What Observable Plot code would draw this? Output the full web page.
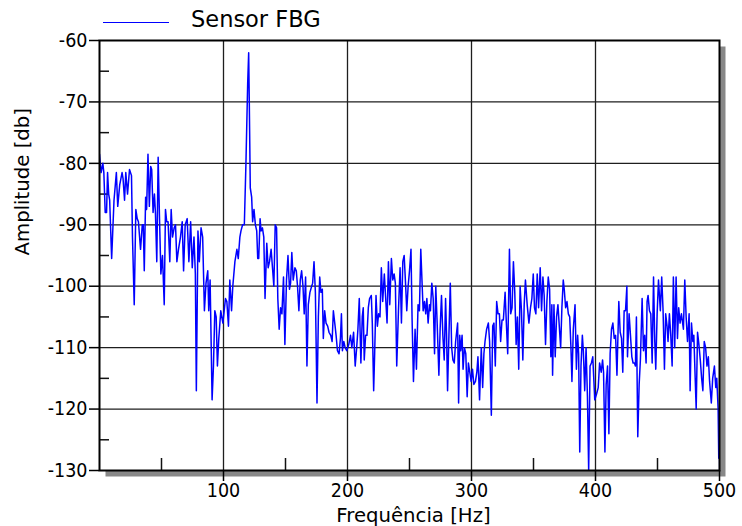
<!DOCTYPE html>
<html><head><meta charset="utf-8">
<script src="https://cdn.jsdelivr.net/npm/d3@7"></script>
<script src="https://cdn.jsdelivr.net/npm/@observablehq/plot@0.6"></script>
<style>
body{margin:0;background:#fff;}
#wrap{position:relative;width:742px;height:526px;font-family:"DejaVu Sans Condensed","DejaVu Sans",sans-serif;}
#legline{position:absolute;left:103px;top:22px;width:66px;height:0;border-top:1px solid #0000ff;}
#legtext{position:absolute;left:191px;top:8px;font-family:"DejaVu Sans",sans-serif;font-size:22.5px;line-height:1;color:#000;white-space:nowrap;}
</style></head><body>
<div id="wrap"><div id="legline"></div><div id="legtext"></div></div>
<script>
const seriesName = "Sensor FBG";
const xLabel = "Frequência [Hz]";
const yLabel = "Amplitude [db]";
const xTicks = [100, 200, 300, 400, 500];
const xGrid = [100, 200, 300, 400];
const xMinor = [50, 150, 250, 350, 450];
const yTicks = [-60, -70, -80, -90, -100, -110, -120, -130];
const yGrid = [-70, -80, -90, -100, -110, -120];
const yMinor = [-65, -75, -85, -95, -105, -115, -125];

const freq = [0,1.3,2.7,3.5,4.6,5.7,6.5,7.4,8.2,9.8,11.7,13.6,14.7,16.3,18.2,19,20.2,21.2,22.6,24.2,25.8,26.6,28,29.3,30.4,31.4,33.1,34.5,35.3,36.1,37.2,38,39.1,40.2,41.3,42.1,43.2,44.3,45.1,46.2,47.3,48.4,49.5,50.8,52.2,53.2,
54.2,55.3,56.7,57.8,58.9,60.2,61.3,62.4,63.7,65.3,66.7,67.8,69.1,70.7,72.1,73.5,74.8,76.2,77.3,78.1,79.4,80.5,81.9,83.2,84.6,85.9,87.3,88.1,89.2,90.8,91.9,93,94.1,95.1,96.2,97.8,99.5,
101.6,102.7,104,105.1,106.5,107.5,109.2,110.8,111.9,113.2,114.1,115.4,116.8,118.1,119.5,120.3,120.8,121.6,122.7,123.5,124.6,125.7,126.8,127.6,128.4,129.5,130.3,131.4,132.5,133.5,134.9,136,137.1,138.4,139.5,140.6,141.7,142.8,143.8,144.9,146,147.1,148.4,149.5,150.8,152,153.2,
154.1,155.1,156.2,157.6,158.7,159.7,160.8,161.9,163,164.1,165.1,166.2,167.3,168.4,169.7,171.1,171.9,173,174.1,175.4,176.5,177.6,178.6,179.7,180.5,181.6,182.7,184,185.1,186.5,187.6,188.6,190,190.8,191.9,193.2,194.3,195.1,195.9,197,198.1,199.4,
201,202.4,203.5,204.9,206.2,207.4,208.4,209.5,210.8,211.9,212.7,213.5,214.6,215.7,216.8,217.8,219.2,220,221.1,221.9,223,224.1,225.1,226.2,227.3,228.4,229.7,231.9,233,234.1,235.4,236.5,237.6,238.6,239.7,241.1,242.4,243.5,244.6,245.7,246.8,247.8,248.9,
250,251.2,252.1,253.2,254.5,255.6,256.9,258,259.1,261,262.1,263.1,264,265,266.1,266.9,268,269.1,270.2,271.2,272.3,273.7,274.7,275.8,276.9,278,279.1,279.9,280.7,281.8,282.9,284,285,286.1,287.2,288,288.8,289.6,290.5,291.3,292.4,293.2,294.3,295.4,296.5,297.5,298.6,
299.7,300.8,301.9,303.2,304.3,305.2,306.5,307.9,309,310,310.9,312.2,313.6,314.6,316,317.1,318.1,319.2,320.3,321.4,322.5,323.5,324.6,325.7,327.1,328.1,329.2,330.6,331.6,332.7,333.8,334.9,336,337,338.1,339.2,340.3,341.4,342.5,343.5,344.9,346.3,347.6,348.7,349.8,
350.8,351.9,353,354.1,355.4,356.5,357.6,358.6,359.7,360.8,361.9,363,364,364.8,365.4,366.5,367.5,368.6,369.7,371.9,372.9,374,374.8,375.9,377,378.1,379.2,380.2,381,382.1,383.5,384.6,385.6,386.4,387.3,388.3,389.4,390.2,391.3,392.4,393.5,394.5,395.6,396.7,397.8,399.4,
400.9,402.2,403.3,404.6,405.7,406.5,407.6,408.6,409.7,410.8,411.8,412.9,414,415.1,416.2,417.3,418.8,419.9,421,422,423.1,424.2,425.3,425.8,427.1,428.2,429.3,430.3,431.4,432.2,433,434.1,435.2,436.2,437.6,438.7,439.7,440.8,441.6,442.4,443.5,444.6,445.7,446.8,447.8,448.6,449.7,
450.8,452.3,453.4,454.5,455.6,456.6,457.7,458.5,459.6,460.7,461.8,462.8,463.9,465,466.1,467.1,468.2,469.3,470.9,472,473.1,474.2,475.5,476.3,477.4,478.5,479.3,480.4,481.2,482.3,483.4,484.5,485.6,486.6,487.7,488.8,489.9,491,492,493.4,494.5,495.9,497,497.8,498.9,499.4,499.8,500.2];

const amp = [-78.5,-81.5,-80,-81.5,-88,-88,-81.5,-85,-86,-95.5,-86,-81.5,-87,-83.5,-81.5,-82.5,-86,-81.5,-85,-81,-82,-92,-103,-87.5,-89,-89.5,-94,-90,-90,-97.5,-85.5,-87.5,-78.5,-87,-80.5,-81,-88,-85,-88,-96,-79,-89,-98,-95,-103,-87.5,
-89.5,-89.5,-96,-87.5,-92,-90.5,-90,-96,-94,-92,-89.5,-97.5,-90,-89,-96,-89.5,-97,-92,-98,-117,-91,-96,-90.5,-92,-104,-99.5,-97.5,-104,-99,-118.5,-113,-104,-105,-113,-108.5,-104,-106,
-102,-102.5,-106.5,-99,-104,-100,-96,-94,-95.5,-92,-91,-90,-90,-80,-67,-62,-70,-84,-85.5,-89.5,-87.5,-90,-91,-95.5,-95.5,-89,-91,-90.5,-92,-102,-93,-97,-96,-94,-97,-100,-90,-90.5,-102,-107,-103.5,-104.5,-98.5,-109.5,-99,-95,-100.5,
-99.5,-94.5,-99,-97,-97.5,-100,-104,-99,-97.5,-100,-104.5,-98.5,-113,-103,-101,-100,-99.5,-96,-101,-119,-105,-98.5,-101,-100.5,-108.5,-104,-106,-106.5,-107.5,-108,-109,-104,-106.5,-108,-110.5,-111,-108.5,-104.5,-110.5,-109,-110,-110.5,
-109.5,-108,-110,-107.5,-113,-110,-107,-102,-112.5,-105,-103.5,-112,-108,-108,-103.5,-102,-101.5,-106,-117,-111,-101.5,-106.5,-104.5,-105,-97,-102.5,-98,-106,-96,-103,-95.5,-99,-98,-99.5,-113,-104,-97,-106,-96,-95,-99.5,-104,-100,
-97.5,-94,-105.5,-115.5,-107,-113.5,-103,-104,-94,-104,-102.5,-104.5,-102,-106,-103,-104,-99.5,-102,-111,-100,-106,-114.5,-107,-101.5,-108,-112,-102,-108,-117,-108,-99.5,-110,-112,-112.5,-109,-107.5,-106,-119,-108,-110.5,-108,-113.5,-110,-111,-118,-112.5,-114,
-115.5,-113.5,-116,-115.5,-114,-111.5,-118.5,-110,-116.5,-111,-109,-107,-106,-109,-121,-106.5,-106,-113,-102.5,-104.5,-104.5,-109,-105.5,-105.5,-101,-106,-111,-94,-104.5,-103.5,-96,-101,-109.5,-105,-113.5,-100,-104,-112,-103,-99,-103,-106,-103.5,-102,-98,
-103.5,-104.5,-98,-103.5,-97,-104,-98.5,-101.5,-109.5,-102.5,-98.5,-100.5,-111.5,-103,-114.5,-103,-111.5,-105,-103,-110,-103.5,-99,-100.5,-103.5,-102.5,-104.5,-105,-110,-115.5,-107,-103,-113.5,-108,-111,-127,-113,-108,-110.5,-117,-110,-118,-130,-113,-112.5,-111.5,-118.5,
-117.5,-116.5,-112.5,-114,-112,-114,-127,-116,-113,-124,-111,-107,-106,-108.5,-108,-114.5,-102.5,-107.5,-108.5,-114,-104,-104,-100,-111.5,-104.5,-108,-111.5,-112.5,-112.5,-113,-105,-124.5,-116,-112,-102,-110.5,-108,-112.5,-102.5,-101.5,-104,-104.5,-112.5,-98.5,-109,-113.5,-104.5,
-99,-104,-98.5,-104,-113.5,-104.5,-106.5,-109,-104.5,-108,-113,-98.5,-110,-98.5,-108.5,-103.5,-106,-104.5,-107,-99,-105,-109,-104.5,-117,-106,-109,-108,-115,-120,-107.5,-109.5,-112,-115,-117,-109,-110,-113,-111.5,-115.5,-119,-115,-113,-116.5,-115,-120,-128,-120,-131];

document.getElementById("legtext").textContent = seriesName;

const data = freq.map((f, i) => ({f, a: amp[i]}));
const fmt = d => String(d);
const font = '"DejaVu Sans Condensed","DejaVu Sans",sans-serif';
const labelFont = '"DejaVu Sans",sans-serif';

const chart = Plot.plot({
  width: 742,
  height: 526,
  marginLeft: 99,
  marginRight: 23,
  marginTop: 40,
  marginBottom: 56,
  style: {fontFamily: font, fontSize: "19.5px", color: "#000", background: "transparent"},
  x: {domain: [0, 500]},
  y: {domain: [-130, -60]},
  marks: [
    Plot.frame({fill: "#888888", stroke: null, dx: 6, dy: 6}),
    Plot.frame({fill: "#ffffff", stroke: null}),
    Plot.gridX(xGrid, {stroke: "#1e1e1e", strokeOpacity: 1, strokeWidth: 1.3}),
    Plot.gridY(yGrid, {stroke: "#1e1e1e", strokeOpacity: 1, strokeWidth: 1.3}),
    Plot.tickX(xMinor, {x: d => d, stroke: "#111", strokeWidth: 1.5, insetTop: 418}),
    Plot.tickY(yMinor, {y: d => d, stroke: "#111", strokeWidth: 1.5, insetRight: 610}),
    Plot.line(data, {x: "f", y: "a", stroke: "#0000ff", strokeWidth: 1.5, clip: true}),
    Plot.frame({stroke: "#000", strokeWidth: 2}),
    Plot.axisX({ticks: xTicks, tickSize: 11, tickPadding: 2, tickFormat: fmt, label: null, strokeWidth: 1.5}),
    Plot.axisY({ticks: yTicks, tickSize: 10, tickPadding: 2, tickFormat: fmt, label: null, strokeWidth: 1.5}),
    Plot.text([xLabel], {text: d => d, frameAnchor: "bottom", dx: 4, dy: 45, lineAnchor: "middle", fontSize: 19.7, fontFamily: labelFont, fill: "#000"}),
    Plot.text([yLabel], {text: d => d, frameAnchor: "left", dx: -77, rotate: -90, lineAnchor: "middle", fontSize: 19.7, fontFamily: labelFont, fill: "#000"})
  ]
});
document.getElementById("wrap").insertBefore(chart, document.getElementById("wrap").firstChild);
</script>
</body></html>
